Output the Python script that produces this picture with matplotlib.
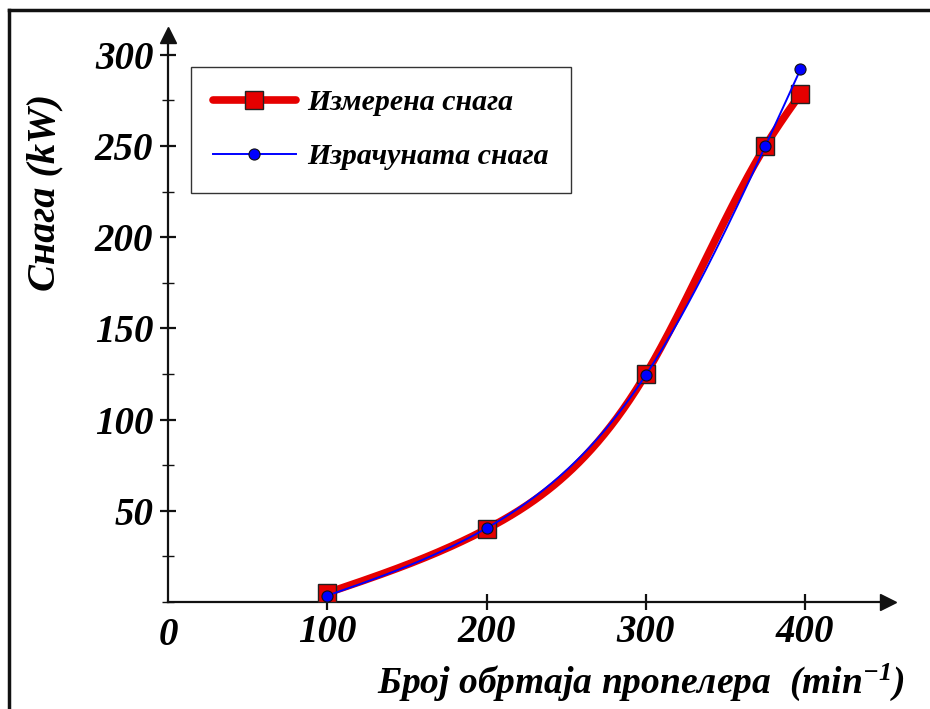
import numpy as np
import matplotlib
matplotlib.use("Agg")
import matplotlib.pyplot as plt
from matplotlib.lines import Line2D
from matplotlib.ticker import MultipleLocator

plt.rcParams['font.family'] = ['Liberation Serif', 'DejaVu Serif']
plt.rcParams['font.weight'] = 'bold'
plt.rcParams['font.style'] = 'italic'
plt.rcParams['mathtext.fontset'] = 'custom'
plt.rcParams['mathtext.rm'] = 'Liberation Serif:bold:italic'
plt.rcParams['mathtext.it'] = 'Liberation Serif:bold:italic'
plt.rcParams['mathtext.bf'] = 'Liberation Serif:bold:italic'

# Measurements: propeller speed (min^-1) vs power (kW)
rpm_measured = [100, 200, 300, 375, 397]
power_measured = [5, 40, 125, 250, 278.5]
rpm_calc = [100, 200, 300, 375, 397]
power_calc = [3.5, 40.5, 124.5, 250, 292]

xticks = [100, 200, 300, 400]
yticks = [50, 100, 150, 200, 250, 300]

label_measured = "Измерена снага"
label_calc = "Израчуната снага"
xlabel = "Број обртаја пропелера  (min$^{-1}$)"
ylabel = "Снага (kW)"


def natural_spline(x, y, n=300):
    x = np.asarray(x, float)
    y = np.asarray(y, float)
    k = len(x)
    h = np.diff(x)
    A = np.zeros((k, k))
    b = np.zeros(k)
    A[0, 0] = A[-1, -1] = 1.0
    for i in range(1, k - 1):
        A[i, i - 1] = h[i - 1]
        A[i, i] = 2 * (h[i - 1] + h[i])
        A[i, i + 1] = h[i]
        b[i] = 6 * ((y[i + 1] - y[i]) / h[i] - (y[i] - y[i - 1]) / h[i - 1])
    M = np.linalg.solve(A, b)
    xs = np.linspace(x[0], x[-1], n)
    idx = np.clip(np.searchsorted(x, xs) - 1, 0, k - 2)
    x0, x1 = x[idx], x[idx + 1]
    hh = x1 - x0
    t0, t1 = x1 - xs, xs - x0
    ys = (M[idx] * t0 ** 3 + M[idx + 1] * t1 ** 3) / (6 * hh) \
        + (y[idx] / hh - M[idx] * hh / 6) * t0 \
        + (y[idx + 1] / hh - M[idx + 1] * hh / 6) * t1
    return xs, ys


W, H = 930, 709
px_x = 159.3 / 100   # pixels per rpm
px_y = 182.4 / 100   # pixels per kW
xmax, ymax = 452, 311
fig = plt.figure(figsize=(W / 100, H / 100), dpi=100)
ax = fig.add_axes([168 / W, (H - 602) / H, xmax * px_x / W, ymax * px_y / H])
ax.set_xlim(0, xmax)
ax.set_ylim(0, ymax)

red = '#e60000'
blue = '#0000ff'

xs, ys = natural_spline(rpm_measured, power_measured)
ax.plot(xs, ys, color=red, lw=5.5, solid_capstyle='round', zorder=3)
ax.plot(rpm_measured, power_measured, ls='none', marker='s', ms=13,
        mfc=red, mec='#222222', mew=1.0, zorder=4)

xs2, ys2 = natural_spline(rpm_calc, power_calc)
ax.plot(xs2, ys2, color=blue, lw=1.4, zorder=5)
ax.plot(rpm_calc, power_calc, ls='none', marker='o', ms=8,
        mfc=blue, mec='#111111', mew=0.8, zorder=6)

# Axes with arrowheads
for s in ('top', 'right'):
    ax.spines[s].set_visible(False)
for s in ('left', 'bottom'):
    ax.spines[s].set_linewidth(1.6)
    ax.spines[s].set_color('#111111')
ax.plot(1.0, 0, marker='>', ms=11, color='#111111', transform=ax.transAxes, clip_on=False)
ax.plot(0, 1.0, marker='^', ms=11, color='#111111', transform=ax.transAxes, clip_on=False)

ax.set_xticks(xticks)
ax.set_yticks(yticks)
ax.yaxis.set_minor_locator(MultipleLocator(25))
ax.tick_params(axis='both', which='major', direction='inout', length=11, width=1.6,
               labelsize=28, color='#111111')
ax.tick_params(axis='y', which='minor', direction='inout', length=8, width=1.0,
               color='#111111')
ax.tick_params(axis='x', pad=3)
ax.tick_params(axis='y', pad=5)
for lab in ax.get_xticklabels() + ax.get_yticklabels():
    lab.set_fontweight('bold')
    lab.set_fontstyle('italic')
ax.text(0, -8, "0", transform=ax.transData, ha='center', va='top', fontsize=28,
        fontweight='bold', fontstyle='italic', clip_on=False)

fig.text(45 / W, 1 - 192 / H, ylabel, rotation=90, ha='center', va='center',
         fontsize=29, fontweight='bold', fontstyle='italic')
fig.text(641 / W, 1 - 682 / H, xlabel, ha='center', va='center',
         fontsize=27, fontweight='bold', fontstyle='italic')

handles = [
    Line2D([], [], color=red, lw=5.5, marker='s', ms=13, mfc=red, mec='#222222',
           mew=1.0, solid_capstyle='round'),
    Line2D([], [], color=blue, lw=1.4, marker='o', ms=8, mfc=blue, mec='#111111',
           mew=0.8),
]
leg = fig.legend(handles, [label_measured, label_calc], loc='upper left',
                 bbox_to_anchor=(191 / W, 1 - 67 / H), borderaxespad=0,
                 prop={'family': 'Liberation Serif', 'weight': 'bold',
                       'style': 'italic', 'size': 21.5},
                 handlelength=2.75, handletextpad=0.4, labelspacing=0.9,
                 borderpad=0.75, fancybox=False, framealpha=1, edgecolor='#333333')
leg.get_frame().set_linewidth(1.0)

# Outer frame lines
fig.add_artist(Line2D([9 / W, 9 / W], [0, 1 - 10 / H], color='#111111', lw=2.5,
                      transform=fig.transFigure))
fig.add_artist(Line2D([9 / W, 1], [1 - 10 / H, 1 - 10 / H], color='#111111', lw=2.5,
                      transform=fig.transFigure))

fig.savefig("out.png", dpi=100)
